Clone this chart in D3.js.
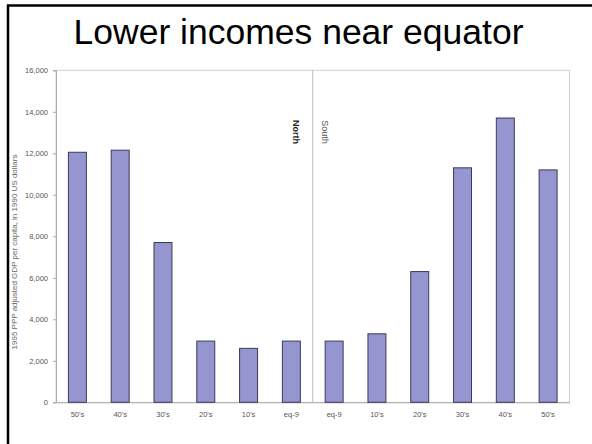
<!DOCTYPE html>
<html>
<head>
<meta charset="utf-8">
<script src="https://cdn.jsdelivr.net/npm/d3@7"></script>
<style>
  html, body { margin: 0; padding: 0; background: #fff; }
  svg { display: block; font-family: "Liberation Sans", Arial, sans-serif; }
</style>
</head>
<body>
<svg id="chart" width="592" height="444"></svg>
<script>
// Latitude bands, from the far north down through the equator to the far south
const categories = ["50's N", "40's N", "30's N", "20's N", "10's N", "eq-9 N",
                    "eq-9 S", "10's S", "20's S", "30's S", "40's S", "50's S"];
const bandLabels = ["50's", "40's", "30's", "20's", "10's", "eq-9",
                    "eq-9", "10's", "20's", "30's", "40's", "50's"];
// GDP per capita (PPP) for each band
const gdpValues = [12050, 12150, 7700, 2950, 2600, 2950,
                   2950, 3300, 6300, 11300, 13700, 11200];
const yTicks = [0, 2000, 4000, 6000, 8000, 10000, 12000, 14000, 16000];

const svg = d3.select("#chart");

// Slide frame
svg.append("rect")
  .attr("x", 8).attr("y", 5.5)
  .attr("width", 620).attr("height", 500)
  .attr("fill", "none").attr("stroke", "#000").attr("stroke-width", 2.5);

// Title
svg.append("text")
  .attr("x", 298.5).attr("y", 44)
  .attr("text-anchor", "middle")
  .attr("font-size", 35.5)
  .attr("fill", "#000")
  .text("Lower incomes near equator");

const plot = { left: 56, right: 569.5, top: 70.3, bottom: 402.3 };

const x = d3.scaleBand()
  .domain(categories)
  .range([plot.left, plot.right])
  .paddingInner(0.58).paddingOuter(0.29);

const y = d3.scaleLinear()
  .domain([0, 16000])
  .range([plot.bottom, plot.top]);

// Plot area box
svg.append("rect")
  .attr("x", plot.left).attr("y", plot.top)
  .attr("width", plot.right - plot.left).attr("height", plot.bottom - plot.top)
  .attr("fill", "none").attr("stroke", "#d0d0d0").attr("stroke-width", 1);

// Y axis
const yAxis = svg.append("g")
  .attr("transform", `translate(${plot.left},0)`)
  .call(d3.axisLeft(y).tickValues(yTicks).tickFormat(d3.format(",")).tickSize(3).tickPadding(5));
yAxis.select(".domain").attr("stroke", "#aaa");
yAxis.selectAll(".tick line").attr("stroke", "#aaa");
yAxis.selectAll(".tick text")
  .attr("font-family", "'Liberation Sans', Arial, sans-serif")
  .attr("font-size", 7.5).attr("fill", "#555");

// X axis
const xAxis = svg.append("g")
  .attr("transform", `translate(0,${plot.bottom})`)
  .call(d3.axisBottom(x).tickFormat((d, i) => bandLabels[i]).tickSize(0).tickPadding(9));
xAxis.select(".domain").attr("stroke", "#aaa");
xAxis.selectAll(".tick text")
  .attr("font-family", "'Liberation Sans', Arial, sans-serif")
  .attr("font-size", 7.5).attr("fill", "#555");

// Equator divider
const midX = (x("eq-9 N") + x.bandwidth() + x("eq-9 S")) / 2;
svg.append("line")
  .attr("x1", midX).attr("x2", midX)
  .attr("y1", plot.top).attr("y2", plot.bottom)
  .attr("stroke", "#bbb").attr("stroke-width", 1);

// Bars
svg.append("g").selectAll("rect")
  .data(gdpValues)
  .join("rect")
  .attr("x", (d, i) => x(categories[i]))
  .attr("y", d => y(d))
  .attr("width", x.bandwidth())
  .attr("height", d => y(0) - y(d))
  .attr("fill", "#9595cf")
  .attr("stroke", "#3a3a5a")
  .attr("stroke-width", 1);

// Hemisphere labels
svg.append("text")
  .attr("transform", `translate(${midX - 20},132) rotate(90)`)
  .attr("text-anchor", "middle")
  .attr("font-size", 9).attr("font-weight", "bold").attr("fill", "#222")
  .text("North");
svg.append("text")
  .attr("transform", `translate(${midX + 9},132) rotate(90)`)
  .attr("text-anchor", "middle")
  .attr("font-size", 9).attr("fill", "#555")
  .text("South");

// Y axis title
svg.append("text")
  .attr("transform", "translate(17,252) rotate(-90)")
  .attr("text-anchor", "middle")
  .attr("font-size", 8).attr("fill", "#666")
  .text("1995 PPP adjusted GDP per capita, in 1990 US dollars");
</script>
</body>
</html>
